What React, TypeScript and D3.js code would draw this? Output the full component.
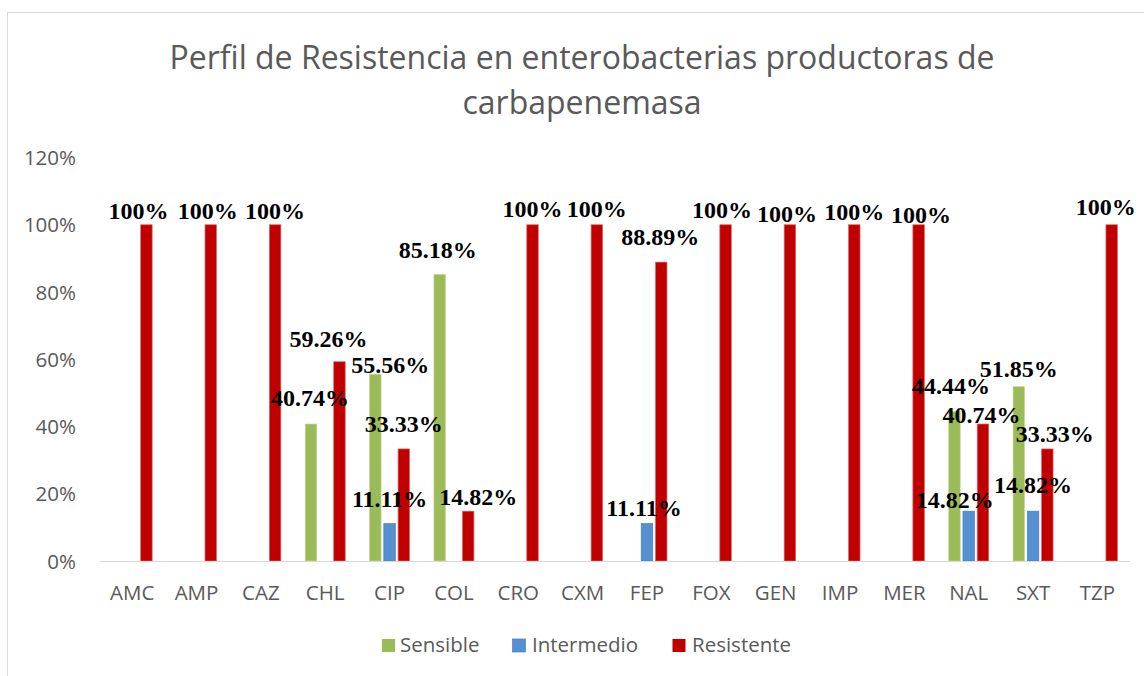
import React from "react";
import * as d3 from "d3";

const categories = ["AMC","AMP","CAZ","CHL","CIP","COL","CRO","CXM","FEP","FOX","GEN","IMP","MER","NAL","SXT","TZP"];
const seriesNames = ["Sensible","Intermedio","Resistente"];
const sensible = [0,0,0,40.74,55.56,85.18,0,0,0,0,0,0,0,44.44,51.85,0];
const intermedio = [0,0,0,0,11.11,0,0,0,11.11,0,0,0,0,14.82,14.82,0];
const resistente = [100,100,100,59.26,33.33,14.82,100,100,88.89,100,100,100,100,40.74,33.33,100];
const yTicks = [0,20,40,60,80,100,120];
const titleLines = ["Perfil de Resistencia en enterobacterias productoras de","carbapenemasa"];

const colors = ["#9bbb59","#5590d3","#c00000"];
const strokes = ["#c3d69b","#4a7ebb","#e06666"];

// manual label nudges (dx, dy) as placed in the original chart
const labelNudge: Record<string,[number,number]> = {
  "AMC-2":[-8,0],"AMP-2":[-3,0],"CAZ-2":[0,0],
  "CHL-0":[-1,-12],"CHL-2":[-11,-9],
  "CIP-0":[15,5],"CIP-1":[0,-11],"CIP-2":[0,-11],
  "COL-0":[-2,-11],"COL-2":[10,0],
  "CRO-2":[0,-2],"CXM-2":[0,-2],
  "FEP-1":[-3,-2],"FEP-2":[-1,-11],
  "FOX-2":[-3.5,-1],"GEN-2":[-3,3],"IMP-2":[0,1],"MER-2":[2.5,4],
  "NAL-0":[-3.5,-12],"NAL-1":[-14,3],"NAL-2":[-1.5,5],
  "SXT-0":[0,-4],"SXT-1":[0,-12],"SXT-2":[7.5,-1],
  "TZP-2":[-6,-4],
};

const W = 1144, H = 676;
const plot = { left: 100, right: 1129.6, top: 157.5, bottom: 561 };
const sans = "'Open Sans', sans-serif";

export default function App() {
  const x0 = d3.scaleBand<string>().domain(categories).range([plot.left, plot.right]).padding(0);
  const x1 = d3.scaleBand<string>().domain(seriesNames).range([0, x0.bandwidth()]).paddingInner(0.193).paddingOuter(0.855);
  const y = d3.scaleLinear().domain([0, 120]).range([plot.bottom, plot.top]);
  const allSeries = [sensible, intermedio, resistente];
  const fmt = (v: number) => (Number.isInteger(v) ? `${v}%` : `${v.toFixed(2)}%`);

  const bars: JSX.Element[] = [];
  const labels: JSX.Element[] = [];
  categories.forEach((c, ci) => {
    allSeries.forEach((s, si) => {
      const v = s[ci];
      if (!v) return;
      const bx = (x0(c) as number) + (x1(seriesNames[si]) as number);
      const bw = x1.bandwidth();
      bars.push(
        <rect key={`b-${c}-${si}`} x={bx} y={y(v)} width={bw} height={y(0) - y(v)}
          fill={colors[si]} stroke={strokes[si]} strokeWidth={0.7} />
      );
      const [dx, dy] = labelNudge[`${c}-${si}`] || [0, 0];
      labels.push(
        <text key={`l-${c}-${si}`} x={bx + bw / 2 + dx} y={y(v) - 6 + dy} textAnchor="middle"
          fontFamily="'Liberation Serif', 'Times New Roman', serif" fontWeight="bold" fontSize={24} fill="#000">
          {fmt(v)}
        </text>
      );
    });
  });

  const legendItems = [
    { name: seriesNames[0], sx: 382, tx: 400 },
    { name: seriesNames[1], sx: 512.5, tx: 532 },
    { name: seriesNames[2], sx: 672.5, tx: 692 },
  ];

  return (
    <svg width={W} height={H} style={{ position: "absolute", left: 0, top: 0 }}>
      <rect x={0} y={0} width={W} height={H} fill="#fff" />
      <rect x={7.5} y={12.5} width={W + 10} height={H + 10} fill="#fff" stroke="#d9d9d9" strokeWidth={1} />
      {titleLines.map((t, i) => (
        <text key={t} x={582} y={69 + i * 45} textAnchor="middle" fontFamily={sans} fontSize={32} fill="#595959">{t}</text>
      ))}
      {yTicks.map((t) => (
        <text key={t} x={76} y={y(t) + 7.5} textAnchor="end" fontFamily={sans} fontSize={20.5} fill="#595959">{t}%</text>
      ))}
      {bars}
      <line x1={plot.left} x2={plot.right} y1={plot.bottom + 0.5} y2={plot.bottom + 0.5} stroke="#d9d9d9" strokeWidth={1.2} />
      {categories.map((c) => (
        <text key={c} x={(x0(c) as number) + x0.bandwidth() / 2} y={600} textAnchor="middle" fontFamily={sans} fontSize={20.5} fill="#595959">{c}</text>
      ))}
      {labels}
      {legendItems.map((l, i) => (
        <g key={l.name}>
          <rect x={l.sx} y={639} width={13} height={13} fill={colors[i]} stroke={i === 1 ? strokes[1] : "none"} strokeWidth={0.7} />
          <text x={l.tx} y={652} fontFamily={sans} fontSize={20.5} fill="#595959">{l.name}</text>
        </g>
      ))}
    </svg>
  );
}
